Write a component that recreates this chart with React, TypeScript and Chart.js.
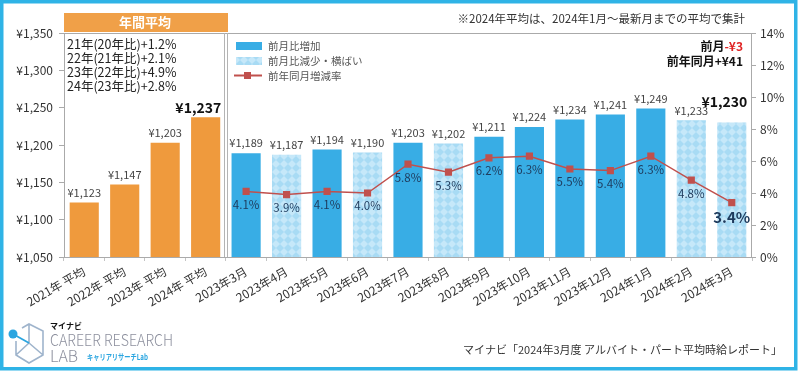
import { useEffect, useRef } from 'react';
import { Chart, registerables } from 'chart.js';
Chart.register(...registerables);

const FONT = '"Noto Sans CJK JP", "Noto Sans", sans-serif';

const categories = [
  '2021年 平均', '2022年 平均', '2023年 平均', '2024年 平均',
  '2023年3月', '2023年4月', '2023年5月', '2023年6月', '2023年7月', '2023年8月',
  '2023年9月', '2023年10月', '2023年11月', '2023年12月', '2024年1月', '2024年2月', '2024年3月',
];
const wageValues = [1123, 1147, 1203, 1237, 1189, 1187, 1194, 1190, 1203, 1202, 1211, 1224, 1234, 1241, 1249, 1233, 1230];
const barKinds = ['annual', 'annual', 'annual', 'annual', 'up', 'down', 'up', 'down', 'up', 'down', 'up', 'up', 'up', 'up', 'up', 'down', 'down'];
const yoyRates = [null, null, null, null, 4.1, 3.9, 4.1, 4.0, 5.8, 5.3, 6.2, 6.3, 5.5, 5.4, 6.3, 4.8, 3.4];
const annualNotes = ['21年(20年比)+1.2%', '22年(21年比)+2.1%', '23年(22年比)+4.9%', '24年(23年比)+2.8%'];
const legendLabels = ['前月比増加', '前月比減少・横ばい', '前年同月増減率'];
const wageAxis = { min: 1050, max: 1350, step: 50 };
const rateAxis = { min: 0, max: 14, step: 2 };
const headerTitle = '年間平均';
const topNote = '※2024年平均は、2024年1月～最新月までの平均で集計';
const sourceNote = 'マイナビ「2024年3月度 アルバイト・パート平均時給レポート」';

const ORANGE = '#EF9A3D';
const BLUE = '#38ADE5';
const RED = '#C0504D';
const FRAME = '#2FB3E6';

function makePattern(ctx: CanvasRenderingContext2D) {
  const c = document.createElement('canvas');
  c.width = 8; c.height = 8;
  const p = c.getContext('2d')!;
  p.fillStyle = '#a8dbf4';
  p.fillRect(0, 0, 8, 8);
  p.fillStyle = '#c6e8f9';
  p.beginPath(); p.moveTo(4, 0); p.lineTo(8, 4); p.lineTo(4, 8); p.lineTo(0, 4); p.closePath(); p.fill();
  return ctx.createPattern(c, 'repeat')!;
}

function fitText(ctx: CanvasRenderingContext2D, text: string, x: number, y: number, w: number) {
  const m = ctx.measureText(text).width;
  ctx.save();
  ctx.translate(x, y);
  ctx.scale(w / m, 1);
  ctx.fillText(text, 0, 0);
  ctx.restore();
}

export default function App() {
  const ref = useRef<HTMLCanvasElement>(null);
  useEffect(() => {
    document.body.style.margin = '0';
    const canvas = ref.current!;
    const ctx0 = canvas.getContext('2d')!;
    const pattern = makePattern(ctx0);
    const barColors = barKinds.map(k => (k === 'annual' ? ORANGE : k === 'up' ? BLUE : pattern));

    const overlay = {
      id: 'overlay',
      beforeDraw(chart: any) {
        const c = chart.ctx;
        c.save();
        c.fillStyle = '#fff';
        c.fillRect(0, 0, chart.width, chart.height);
        c.restore();
      },
      afterDatasetsDraw(chart: any) {
        const c = chart.ctx;
        c.save();
        c.textBaseline = 'middle';
        const bars = chart.getDatasetMeta(0).data;
        bars.forEach((el: any, i: number) => {
          const v = wageValues[i];
          const txt = '¥' + v.toLocaleString('en-US');
          const last = i === wageValues.length - 1;
          const big = i === 3 || last;
          if (big) {
            c.fillStyle = '#111';
            c.font = `bold 14px ${FONT}`;
            c.textAlign = 'right';
            c.fillText(txt, el.x + el.width / 2 + 1, el.y - (last ? 21 : 10));
          } else {
            c.fillStyle = '#444';
            c.font = `11px ${FONT}`;
            c.textAlign = 'center';
            c.fillText(txt, el.x, el.y - 10);
          }
        });
        c.textAlign = 'center';
        const pts = chart.getDatasetMeta(1).data;
        pts.forEach((el: any, i: number) => {
          const v = yoyRates[i];
          if (v == null) return;
          const last = i === yoyRates.length - 1;
          c.fillStyle = '#1e3a5c';
          c.font = last ? `bold 15px ${FONT}` : `11.5px ${FONT}`;
          c.fillText(v.toFixed(1) + '%', el.x, el.y + (last ? 15 : 13));
        });
        c.restore();
      },
      afterDraw(chart: any) {
        const c = chart.ctx;
        const a = chart.chartArea;
        const xs = chart.scales.x;
        c.save();
        // plot box
        c.strokeStyle = '#aaaaaa';
        c.lineWidth = 1;
        c.strokeRect(a.left + 0.5, a.top + 0.5, a.right - a.left - 1, a.bottom - a.top);
        // separator
        const sep = (xs.getPixelForValue(3) + xs.getPixelForValue(4)) / 2;
        c.strokeStyle = '#b4b4b4';
        c.beginPath();
        c.moveTo(Math.round(sep) - 1.5, a.top); c.lineTo(Math.round(sep) - 1.5, a.bottom);
        c.moveTo(Math.round(sep) + 1.5, a.top); c.lineTo(Math.round(sep) + 1.5, a.bottom);
        c.stroke();
        // header
        c.fillStyle = '#F0A048';
        c.fillRect(a.left, 13, Math.round(sep) + 2 - a.left, a.top - 14);
        c.fillStyle = '#fff';
        c.font = `bold 13px ${FONT}`;
        c.textAlign = 'center';
        c.textBaseline = 'middle';
        c.fillText(headerTitle, (a.left + sep) / 2, 22.5);
        // annual notes
        c.fillStyle = '#222';
        c.font = `12.5px ${FONT}`;
        c.textAlign = 'left';
        annualNotes.forEach((t, i) => c.fillText(t, 67, 44.5 + i * 13.8));
        // top note
        c.fillStyle = '#333';
        c.font = `11.5px ${FONT}`;
        c.textAlign = 'right';
        c.fillText(topNote, 745, 19);
        // change notes
        c.font = `bold 12px ${FONT}`;
        const redPart = '-¥3';
        const rw = c.measureText(redPart).width;
        c.fillStyle = '#E02424';
        c.fillText(redPart, 743, 46);
        c.fillStyle = '#111';
        c.fillText('前月', 743 - rw, 46);
        c.fillText('前年同月+¥41', 743, 61);
        // legend
        c.fillStyle = BLUE;
        c.fillRect(236, 42, 26, 8);
        c.fillStyle = pattern;
        c.fillRect(236, 57, 26, 8);
        c.strokeStyle = RED;
        c.lineWidth = 2;
        c.beginPath(); c.moveTo(234, 75.5); c.lineTo(262, 75.5); c.stroke();
        c.fillStyle = RED;
        c.fillRect(244, 72, 7, 7);
        c.fillStyle = '#555';
        c.font = `10.5px ${FONT}`;
        c.textAlign = 'left';
        legendLabels.forEach((t, i) => c.fillText(t, 268, 46 + i * 15));
        // source
        c.fillStyle = '#333';
        c.font = `11px ${FONT}`;
        c.textAlign = 'right';
        c.fillText(sourceNote, 782, 350);
        // logo
        c.strokeStyle = '#9fb4cc';
        c.lineWidth = 1.6;
        c.beginPath();
        c.moveTo(22, 328); c.lineTo(29, 324); c.lineTo(43, 331); c.lineTo(43, 355);
        c.lineTo(29, 363); c.lineTo(16, 355); c.lineTo(16, 341);
        c.moveTo(29, 324); c.lineTo(29, 343); c.lineTo(43, 355);
        c.moveTo(29, 343); c.lineTo(16, 355);
        c.stroke();
        c.strokeStyle = '#2aa5e0';
        c.lineWidth = 1.8;
        c.beginPath(); c.moveTo(13, 334); c.lineTo(29, 343); c.stroke();
        c.fillStyle = '#2aa5e0';
        c.beginPath(); c.arc(13, 334, 4.5, 0, Math.PI * 2); c.fill();
        c.fillStyle = '#111';
        c.font = `bold 8px ${FONT}`;
        c.textAlign = 'left';
        c.textBaseline = 'middle';
        c.fillText('マイナビ', 50, 326);
        c.fillStyle = '#8d909e';
        c.font = `300 16px ${FONT}`;
        c.textBaseline = 'alphabetic';
        fitText(c, 'CAREER RESEARCH', 50, 345.5, 123);
        fitText(c, 'LAB', 50, 362, 28);
        c.fillStyle = '#2aa5e0';
        c.font = `bold 8px ${FONT}`;
        fitText(c, 'キャリアリサーチLab', 87, 360, 61);
        // outer frame
        c.strokeStyle = FRAME;
        c.lineWidth = 3.5;
        c.strokeRect(1.75, 1.75, 794, 367);
        c.restore();
      },
    };

    const chart = new Chart(canvas, {
      type: 'bar',
      data: {
        labels: categories,
        datasets: [
          {
            type: 'bar',
            data: wageValues,
            backgroundColor: barColors as any,
            yAxisID: 'y',
            categoryPercentage: 1,
            barPercentage: 0.72,
            order: 1,
          },
          {
            type: 'line',
            data: yoyRates as any,
            yAxisID: 'y1',
            borderColor: RED,
            borderWidth: 1.5,
            pointStyle: 'rect',
            pointRadius: 4,
            pointBackgroundColor: RED,
            pointBorderColor: RED,
            order: 0,
          },
        ],
      },
      options: {
        animation: false,
        responsive: false,
        devicePixelRatio: 1,
        layout: { padding: { top: 33, left: 0, right: 0, bottom: 0 } },
        plugins: { legend: { display: false }, tooltip: { enabled: false } },
        scales: {
          x: {
            afterFit: (s: any) => { s.height = 118; },
            grid: { display: true, drawOnChartArea: false, tickLength: 4, color: '#c4c4c4', offset: true },
            border: { display: false },
            ticks: {
              maxRotation: 30, minRotation: 30, autoSkip: false, padding: 3,
              color: '#333', font: { family: FONT, size: 12 },
            },
          },
          y: {
            position: 'left',
            min: wageAxis.min, max: wageAxis.max,
            afterFit: (s: any) => { s.width = 64; },
            grid: { display: true, drawOnChartArea: false, tickLength: 5, color: '#aaa' },
            border: { display: false },
            ticks: {
              stepSize: wageAxis.step, padding: 6, color: '#333',
              font: { family: FONT, size: 12 },
              callback: (v: any) => '¥' + Number(v).toLocaleString('en-US'),
            },
          },
          y1: {
            position: 'right',
            min: rateAxis.min, max: rateAxis.max,
            afterFit: (s: any) => { s.width = 48; },
            grid: { display: true, drawOnChartArea: false, tickLength: 4, color: '#aaa' },
            border: { display: false },
            ticks: {
              stepSize: rateAxis.step, padding: 4, color: '#333',
              font: { family: FONT, size: 12 },
              callback: (v: any) => v + '%',
            },
          },
        },
      },
      plugins: [overlay],
    });
    return () => chart.destroy();
  }, []);
  return (
    <div style={{ width: 800, height: 375 }}>
      <canvas ref={ref} width={800} height={375} style={{ width: 800, height: 375, display: 'block' }} />
    </div>
  );
}
